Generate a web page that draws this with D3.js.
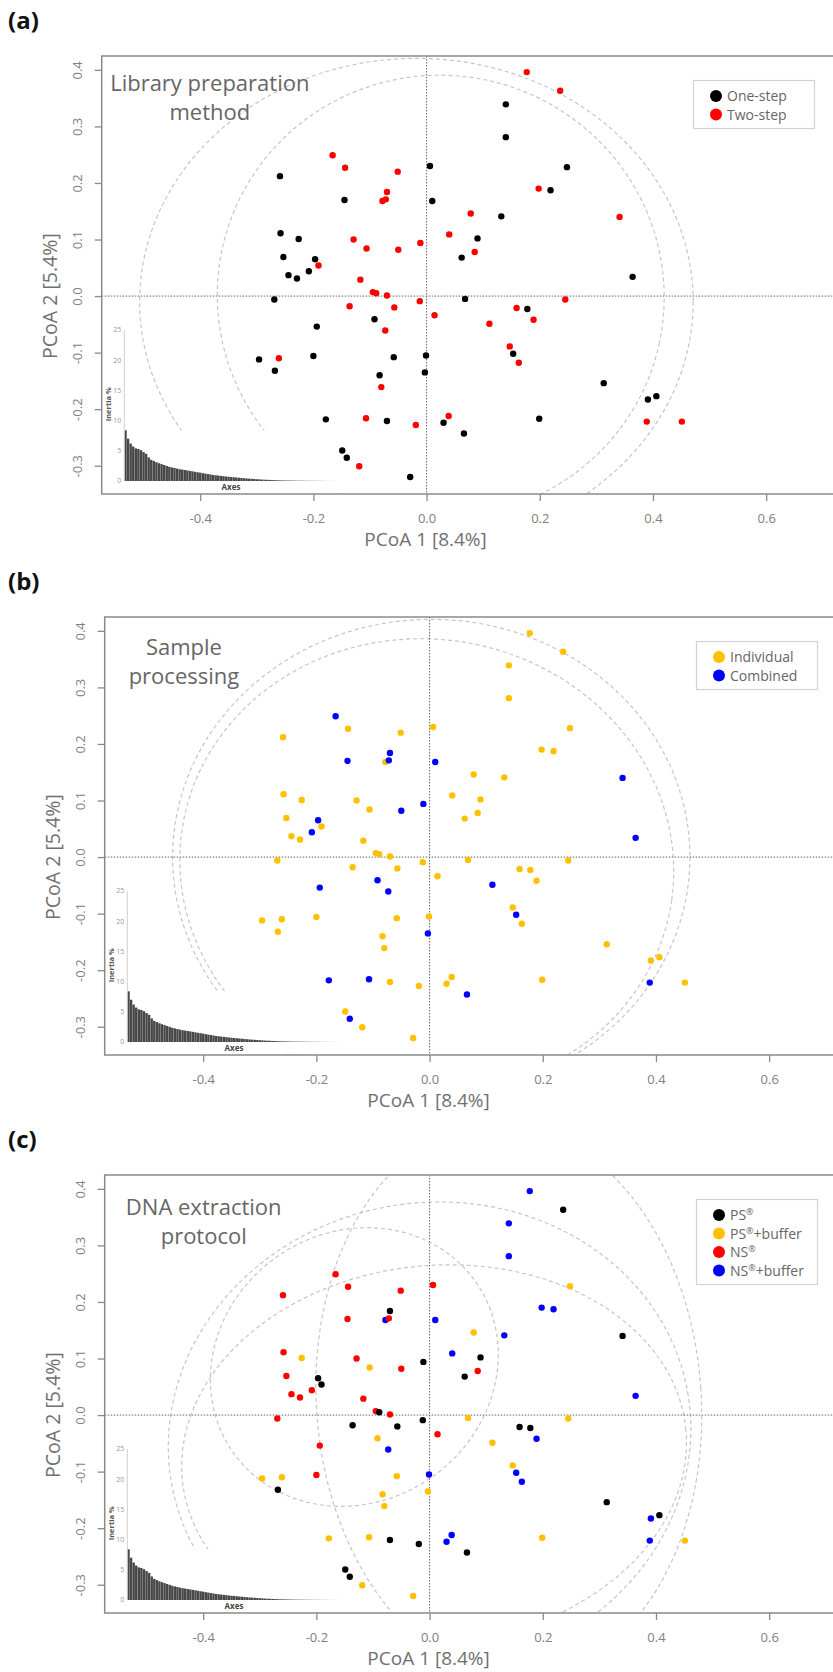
<!DOCTYPE html>
<html>
<head>
<meta charset="utf-8">
<script src="https://cdn.jsdelivr.net/npm/d3@7"></script>
<style>
  body { margin: 0; background: #fff; }
  svg { display: block; font-family: "Open Sans", sans-serif; }
</style>
</head>
<body>
<div id="d1"></div>
<script>
// sample scores on the first two PCoA axes (same 84 samples in every panel)
const pcoa1 = [
  -0.166, -0.144, -0.259, -0.051, -0.145, -0.078, -0.072, -0.070, -0.258, -0.226,
  -0.129, -0.106, -0.050, -0.011, -0.253, -0.197, -0.191, -0.244, -0.229, -0.208,
  -0.117, -0.095, -0.089, -0.070, -0.012, -0.269, -0.136, -0.057, -0.092, -0.073,
  -0.194, -0.296, -0.261, -0.268, -0.200, -0.058, -0.083, -0.080, -0.178, -0.107,
  -0.070, -0.019, -0.149, -0.141, -0.119, -0.029, 0.111, 0.189, -0.001, -0.003,
  0.147, 0.153, 0.163, 0.313, 0.391, 0.406, 0.389, 0.451, 0.030, 0.039,
  0.066, 0.199, 0.364, 0.068, 0.014, 0.159, 0.178, 0.245, 0.177, 0.236,
  0.140, 0.140, 0.006, 0.248, 0.198, 0.219, 0.010, 0.078, 0.132, 0.341,
  0.040, 0.090, 0.085, 0.062
];
const pcoa2 = [
  0.249, 0.227, 0.212, 0.220, 0.170, 0.168, 0.171, 0.184, 0.111, 0.101,
  0.100, 0.084, 0.082, 0.094, 0.069, 0.065, 0.054, 0.037, 0.031, 0.044,
  0.029, 0.007, 0.005, 0.001, -0.009, -0.006, -0.018, -0.020, -0.041, -0.061,
  -0.054, -0.112, -0.110, -0.132, -0.106, -0.108, -0.140, -0.161, -0.218, -0.216,
  -0.221, -0.228, -0.273, -0.286, -0.301, -0.320, -0.049, -0.042, -0.105, -0.135,
  -0.089, -0.102, -0.118, -0.154, -0.183, -0.177, -0.222, -0.222, -0.224, -0.212,
  -0.243, -0.217, 0.034, -0.005, -0.034, -0.021, -0.023, -0.006, 0.396, 0.363,
  0.339, 0.281, 0.230, 0.228, 0.190, 0.187, 0.168, 0.146, 0.141, 0.140,
  0.109, 0.102, 0.078, 0.068
];

// groupings (index into the class lists)
const libraryClasses = ["One-step", "Two-step"];
const libraryGroup = [
  1,1,0,1,0,1,1,1,0,0, 1,1,1,1,0,0,1,0,0,0, 1,1,1,1,1,0,1,1,0,1,
  0,0,1,0,0,0,0,1,0,1, 0,1,0,0,1,0,1,1,0,0, 1,0,1,0,0,0,1,1,0,1,
  0,0,0,0,1,1,0,1,1,1, 0,0,0,0,1,0,0,1,0,1, 1,0,1,0
];
const processingClasses = ["Individual", "Combined"];
const processingGroup = [
  1,0,0,0,1,0,1,1,0,0, 0,0,1,1,0,1,0,0,0,1, 0,0,0,0,0,0,0,0,1,1,
  1,0,0,0,0,0,0,0,1,1, 0,0,0,1,0,0,1,0,0,1, 0,1,0,0,0,0,1,0,0,0,
  1,0,1,0,0,0,0,0,0,0, 0,0,0,0,0,0,1,0,0,1, 0,0,0,0
];
const extractionClasses = ["PS®", "PS®+buffer", "NS®", "NS®+buffer"];
const extractionGroup = [
  2,2,2,2,2,3,2,0,2,1, 2,1,2,0,2,0,0,2,2,2, 2,2,0,2,0,2,0,0,1,3,
  2,1,1,0,2,1,1,1,1,1, 0,0,0,0,1,1,1,3,3,1, 1,3,3,0,3,0,3,1,3,3,
  0,1,3,1,2,0,0,1,3,0, 3,3,2,1,3,3,3,1,3,0, 3,0,2,0
];

// class ellipses: [centre x, centre y, half axis x, half axis y, angle in degrees]
const ellipsesA = [[-0.018, -0.01, 0.489, 0.43, 0], [0.025, 0.0, 0.395, 0.39, -12]];
const ellipsesB = [[0.003, 0.0, 0.457, 0.42, 0], [-0.005, -0.015, 0.437, 0.40, -8]];
const ellipsesC = [
  [0.14, 0.025, 0.34, 0.49, 4],
  [-0.133, 0.085, 0.262, 0.238, 35],
  [0.0, -0.04, 0.463, 0.415, 10],
  [0.008, -0.07, 0.447, 0.334, 6]
];

// eigenvalue screeplot (% inertia per axis)
const inertia = [
  8.4, 7.0, 6.2, 5.7, 5.4, 5.3, 5.1, 4.8, 4.5, 3.9,
  3.5, 3.3, 3.1, 2.95, 2.8, 2.65, 2.5, 2.35, 2.25, 2.15,
  2.05, 1.95, 1.9, 1.82, 1.75, 1.68, 1.6, 1.52, 1.45, 1.38,
  1.3, 1.22, 1.15, 1.08, 1.0, 0.95, 0.9, 0.85, 0.8, 0.75,
  0.7, 0.66, 0.62, 0.58, 0.54, 0.5, 0.46, 0.42, 0.39, 0.36,
  0.33, 0.3, 0.27, 0.24, 0.22, 0.2, 0.18, 0.16, 0.14, 0.12,
  0.11, 0.1, 0.09, 0.08, 0.07, 0.065, 0.06, 0.055, 0.05, 0.045,
  0.04, 0.035, 0.03, 0.03, 0.025, 0.02, 0.02, 0.015, 0.01, 0.01,
  0.01, 0.005, 0.005
];

const xTicks = [-0.4, -0.2, 0.0, 0.2, 0.4, 0.6];
const yTicks = [-0.3, -0.2, -0.1, 0.0, 0.1, 0.2, 0.3, 0.4];
const inertiaTicks = [0, 5, 10, 15, 20, 25];

const panels = [
  { tag: "(a)", dx: 0, dy: 0, title: ["Library preparation", "method"], tx: -0.383, ty: 0.363,
    classes: libraryClasses, group: libraryGroup, colors: ["#000000", "#ff0000"], ellipses: ellipsesA },
  { tag: "(b)", dx: 3, dy: 561, title: ["Sample", "processing"], tx: -0.434, ty: 0.357,
    classes: processingClasses, group: processingGroup, colors: ["#ffc000", "#0000ff"], ellipses: ellipsesB },
  { tag: "(c)", dx: 3, dy: 1119, title: ["DNA extraction", "protocol"], tx: -0.399, ty: 0.354,
    classes: extractionClasses, group: extractionGroup, colors: ["#000000", "#ffc000", "#ff0000", "#0000ff"], ellipses: ellipsesC }
];

const width = 833, height = 1672;
const svg = d3.select("#d1").append("svg")
  .attr("width", width).attr("height", height)
  .attr("viewBox", [0, 0, width, height]);

const x = d3.scaleLinear().domain([-0.574, 0.72]).range([101.7, 834.1]);
const y = d3.scaleLinear().domain([-0.35, 0.4245]).range([494, 56]);
const k = x(1) - x(0);
const [plotL, plotR] = x.range();
const [plotB, plotT] = y.range();

const ib = d3.scaleBand().domain(d3.range(inertia.length)).range([124.3, 338]).paddingInner(0.06);
const iy = d3.scaleLinear().domain([0, 25]).range([481, 330]);

function label(sel, s) {
  // split "PS®+buffer" into text with a superscript mark
  const parts = s.split("®");
  sel.append("tspan").text(parts[0]);
  if (parts.length > 1) {
    sel.append("tspan").attr("font-size", 9).attr("dy", -5).text("®");
    if (parts[1]) sel.append("tspan").attr("dy", 5).text(parts[1]);
  }
}

panels.forEach((p, pi) => {
  const g = svg.append("g").attr("transform", `translate(${p.dx},${p.dy})`);

  g.append("clipPath").attr("id", "clip" + pi)
    .append("rect")
    .attr("x", plotL).attr("y", plotT)
    .attr("width", plotR - plotL).attr("height", plotB - plotT);

  const plot = g.append("g").attr("clip-path", `url(#clip${pi})`);

  // dashed class ellipses
  plot.append("g")
    .attr("fill", "none")
    .attr("stroke", "#c6c6c6")
    .attr("stroke-width", 1.2)
    .attr("stroke-dasharray", "4,3")
    .selectAll("ellipse")
    .data(p.ellipses)
    .join("ellipse")
    .attr("cx", d => x(d[0]))
    .attr("cy", d => y(d[1]))
    .attr("rx", d => d[2] * k)
    .attr("ry", d => d[3] * k)
    .attr("transform", d => `rotate(${-d[4]},${x(d[0])},${y(d[1])})`);

  // dotted origin lines
  plot.append("line")
    .attr("x1", plotL).attr("x2", plotR).attr("y1", y(0)).attr("y2", y(0))
    .attr("stroke", "#666").attr("stroke-dasharray", "1.5,1.5");
  plot.append("line")
    .attr("x1", x(0)).attr("x2", x(0)).attr("y1", plotT).attr("y2", plotB)
    .attr("stroke", "#666").attr("stroke-dasharray", "1.5,1.5");

  // screeplot inset
  const inset = g.append("g");
  inset.append("rect")
    .attr("x", ib.range()[0]).attr("y", iy(d3.max(inertia)))
    .attr("width", 345 - ib.range()[0]).attr("height", plotB - 1 - iy(d3.max(inertia)))
    .attr("fill", "#fff");
  inset.append("g")
    .attr("fill", "#484848")
    .selectAll("rect")
    .data(inertia)
    .join("rect")
    .attr("x", (d, i) => ib(i))
    .attr("width", ib.bandwidth())
    .attr("y", d => iy(d))
    .attr("height", d => iy(0) - iy(d));
  inset.append("line")
    .attr("x1", ib.range()[0]).attr("x2", ib.range()[0])
    .attr("y1", iy(25)).attr("y2", iy(0))
    .attr("stroke", "#cfcfcf");
  inset.append("g")
    .attr("font-size", 7).attr("fill", "#999").attr("text-anchor", "end")
    .selectAll("text")
    .data(inertiaTicks)
    .join("text")
    .attr("x", ib.range()[0] - 3)
    .attr("y", d => iy(d))
    .attr("dy", "0.35em")
    .text(d => d);
  inset.append("text")
    .attr("transform", `translate(110.5,${iy(12.7)}) rotate(-90)`)
    .attr("text-anchor", "middle")
    .attr("font-size", 7.5).attr("font-weight", "bold").attr("fill", "#555")
    .text("Inertia %");
  inset.append("text")
    .attr("x", 231).attr("y", 490)
    .attr("text-anchor", "middle")
    .attr("font-size", 8).attr("font-weight", "bold").attr("fill", "#444")
    .text("Axes");

  // samples
  g.append("g")
    .selectAll("circle")
    .data(pcoa1.map((v, i) => ({ x: v, y: pcoa2[i], c: p.group[i] })))
    .join("circle")
    .attr("cx", d => x(d.x))
    .attr("cy", d => y(d.y))
    .attr("r", 3.2)
    .attr("fill", d => p.colors[d.c]);

  // frame
  g.append("rect")
    .attr("x", plotL).attr("y", plotT)
    .attr("width", plotR + 20 - plotL).attr("height", plotB - plotT)
    .attr("fill", "none").attr("stroke", "#8a8a8a").attr("stroke-width", 1.5);

  // axes
  g.append("g")
    .attr("transform", `translate(0,${plotB})`)
    .call(d3.axisBottom(x).tickValues(xTicks).tickSize(7).tickPadding(12.5).tickFormat(d => d.toFixed(1)))
    .call(a => a.select(".domain").remove())
    .call(a => a.selectAll(".tick line").attr("stroke", "#8a8a8a").attr("stroke-width", 1.3))
    .call(a => a.selectAll(".tick text").attr("fill", "#808080").attr("font-size", 13).attr("font-family", "Open Sans"));

  g.append("g")
    .attr("transform", `translate(${plotL},0)`)
    .call(d3.axisLeft(y).tickValues(yTicks).tickSize(7).tickFormat(d => d.toFixed(1)))
    .call(a => a.select(".domain").remove())
    .call(a => a.selectAll(".tick line").attr("stroke", "#8a8a8a").attr("stroke-width", 1.3))
    .call(a => a.selectAll(".tick text")
      .attr("x", 0).attr("dy", 0)
      .attr("transform", "translate(-20,0) rotate(-90)")
      .attr("text-anchor", "middle")
      .attr("fill", "#808080").attr("font-size", 13).attr("font-family", "Open Sans"));

  g.append("text")
    .attr("x", x(0) - 1).attr("y", 546)
    .attr("text-anchor", "middle")
    .attr("font-size", 19).attr("fill", "#707070")
    .text("PCoA 1 [8.4%]");
  g.append("text")
    .attr("transform", `translate(57,${y(0)}) rotate(-90)`)
    .attr("text-anchor", "middle")
    .attr("font-size", 19.5).attr("fill", "#707070")
    .text("PCoA 2 [5.4%]");

  // panel tag
  g.append("text")
    .attr("x", 8 - p.dx).attr("y", 29)
    .attr("font-size", 24).attr("font-weight", "bold").attr("fill", "#111")
    .text(p.tag);

  // in-plot title
  g.append("g")
    .attr("font-size", 22).attr("fill", "#666").attr("text-anchor", "middle")
    .selectAll("text")
    .data(p.title)
    .join("text")
    .attr("x", x(p.tx))
    .attr("y", (d, i) => y(p.ty) + i * 29)
    .text(d => d);

  // legend
  const n = p.classes.length;
  const lg = g.append("g");
  lg.append("rect")
    .attr("x", 693.5).attr("y", 80.5)
    .attr("width", 121).attr("height", 29.5 + 18.5 * (n - 1))
    .attr("fill", "#fff").attr("stroke", "#d2d2d2").attr("stroke-width", 1.2);
  const item = lg.selectAll("g")
    .data(p.classes)
    .join("g")
    .attr("transform", (d, i) => `translate(716,${96 + i * 18.5})`);
  item.append("circle").attr("r", 6).attr("fill", (d, i) => p.colors[i]);
  item.append("text")
    .attr("x", 11).attr("y", 5)
    .attr("font-size", 14).attr("fill", "#666")
    .each(function (d) { label(d3.select(this), d); });
});
</script>
</body>
</html>
